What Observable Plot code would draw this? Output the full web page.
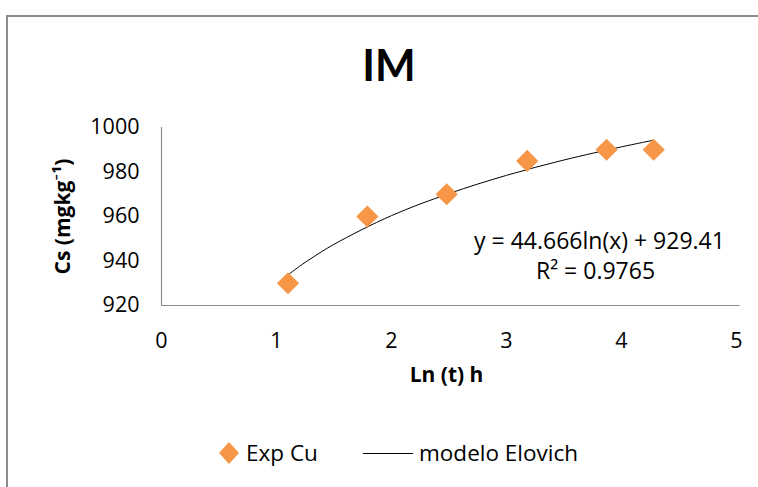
<!DOCTYPE html>
<html>
<head>
<meta charset="utf-8">
<script src="https://cdn.jsdelivr.net/npm/d3@7"></script>
<script src="https://cdn.jsdelivr.net/npm/@observablehq/plot@0.6"></script>
<style>
  html, body { margin: 0; padding: 0; background: #fff; }
  body { width: 758px; height: 487px; overflow: hidden; font-family: "Open Sans", Lato, sans-serif; }
  #wrap { position: relative; width: 758px; height: 487px; }
  #frame { position: absolute; left: 6px; top: 15px; width: 800px; height: 520px; border-left: 2px solid #8c8c8c; border-top: 2px solid #8c8c8c; box-sizing: border-box; }
  #title { position: absolute; left: 0; width: 778px; top: 39px; text-align: center; font-weight: bold; font-size: 43px; color: #000; font-family: Lato, sans-serif; }
  #legend { position: absolute; top: 438px; left: 0; width: 758px; font-size: 22.5px; color: #000; }
  .lg { position: absolute; top: 0; line-height: 30px; white-space: nowrap; }
  svg.plot { position: absolute; left: 0; top: 0; }
</style>
</head>
<body>
<div id="wrap">
  <div id="frame"></div>
  <div id="chart"></div>
  <div id="title"></div>
  <div id="legend"></div>
</div>
<script>
// Data
const title = "IM";
const xLabel = "Ln (t) h";
const yLabel = "Cs (mgkg⁻¹)";
const seriesNames = ["Exp Cu", "modelo Elovich"];
const expX = [1.10, 1.79, 2.48, 3.18, 3.87, 4.28];
const expY = [930, 960, 970, 985, 990, 990];
// points
const fitX = [1.10, 1.20, 1.30, 1.50, 2.00, 2.50, 3.00, 3.50, 4.00, 4.28];
const fitY = [933.7, 937.6, 941.1, 947.5, 960.4, 970.3, 978.5, 985.4, 991.3, 994.3];
const xTicks = [0, 1, 2, 3, 4, 5];
const yTicks = [920, 940, 960, 980, 1000];
const equation = "y = 44.666ln(x) + 929.41";
const r2 = "R² = 0.9765";

const orange = "#F79646";
const exp = expX.map((x, i) => ({x, y: expY[i]}));
const fit = fitX.map((x, i) => ({x, y: fitY[i]}));

const font = "'Open Sans', Lato, sans-serif";

const chart = Plot.plot({
  width: 758,
  height: 487,
  marginLeft: 161,
  marginRight: 22,
  marginTop: 127,
  marginBottom: 182,
  style: { fontFamily: font, fontSize: "21.5px", color: "#000", background: "transparent" },
  x: { domain: [0, 5], ticks: xTicks },
  y: { domain: [920, 1000], ticks: yTicks },
  marks: [
    Plot.ruleX([0], { stroke: "#8c8c8c", strokeWidth: 1.2 }),
    Plot.ruleY([920], { stroke: "#8c8c8c", strokeWidth: 1.2, x1: 0, x2: 5.03 }),
    Plot.axisX({ ticks: xTicks, tickFormat: d => String(d), tickSize: 0, tickPadding: 27, label: null, fontSize: 21.5 }),
    Plot.axisY({ ticks: yTicks, tickFormat: d => String(d), tickSize: 0, tickPadding: 22, label: null, fontSize: 21.5 }),
    Plot.line(fit, { x: "x", y: "y", curve: "catmull-rom", stroke: "#000", strokeWidth: 1 }),
    Plot.dot(exp, { x: "x", y: "y", symbol: "diamond2", r: 10, fill: orange, stroke: "none" }),
    Plot.text([equation], { frameAnchor: "top-left", dx: 438, dy: 105, fontSize: 23, textAnchor: "middle", fill: "#000" }),
    Plot.text([r2], { frameAnchor: "top-left", dx: 434, dy: 135, fontSize: 23, textAnchor: "middle", fill: "#000" }),
    Plot.text([xLabel], { frameAnchor: "bottom-left", dx: 285, dy: 76, fontSize: 21, fontWeight: "bold", textAnchor: "middle", fill: "#000" }),
    Plot.text([yLabel], { frameAnchor: "left", dx: -98, dy: 0, rotate: -90, fontSize: 21, fontWeight: "bold", textAnchor: "middle", fill: "#000" })
  ]
});
document.getElementById("chart").appendChild(chart);
document.getElementById("title").textContent = title;

const lg = document.getElementById("legend");
lg.innerHTML = `
  <div class="lg" style="left:217px"><svg width="24" height="30" style="vertical-align:top"><path d="M12 4 L22 15 L12 26 L2 15 Z" fill="${orange}"/></svg></div>
  <div class="lg" style="left:246px">${seriesNames[0]}</div>
  <div class="lg" style="left:363px"><svg width="52" height="30" style="vertical-align:top"><line x1="0" x2="50" y1="15.5" y2="15.5" stroke="#000" stroke-width="1"/></svg></div>
  <div class="lg" style="left:419px">${seriesNames[1]}</div>`;
</script>
</body>
</html>
